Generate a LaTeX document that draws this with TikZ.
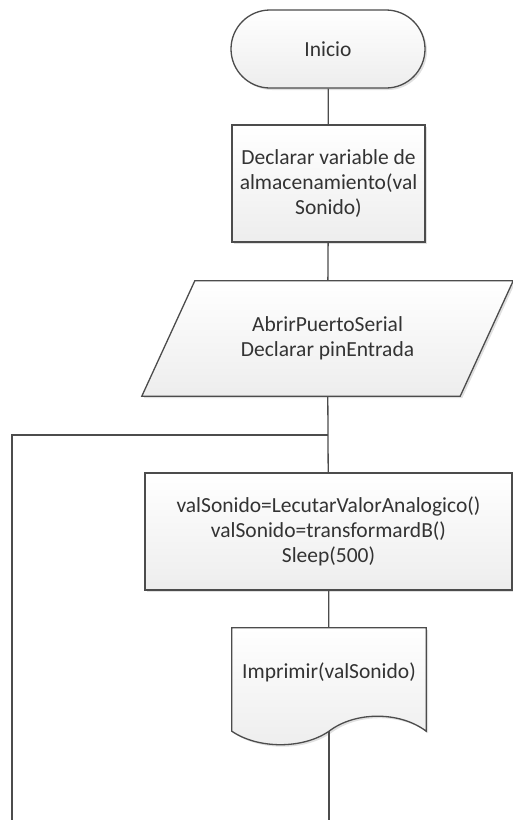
\documentclass[tikz,border=0pt]{standalone}
\usepackage{fontspec}
\setmainfont{Carlito}
\usetikzlibrary{shadows,calc}

\begin{document}
\begin{tikzpicture}[x=1pt, y=-1pt,
    every node/.style={font=\fontsize{21.5}{25}\selectfont, text=black!80, align=center},
    line/.style={draw=black!70, line width=1.3pt},
    boxfill/.style={top color=white, bottom color=black!7,
        drop shadow={shadow xshift=2pt, shadow yshift=-2pt, opacity=0.12, fill=black}},
    terminal/.style={line, boxfill, rectangle, rounded corners=39pt, minimum width=194pt, minimum height=78pt},
    process/.style={line, boxfill, rectangle, minimum height=117pt},
    textbox/.style={inner sep=0pt}]

    \useasboundingbox (0,0) rectangle (513,820);

    % Flowchart blocks
    \node[terminal] (inicio) at (328,49) {Inicio};
    \node[process, minimum width=193pt] (decl) at (328.5,183.5)
        {Declarar variable de\\almacenamiento(val\\Sonido)};
    \node[textbox, minimum width=318pt, minimum height=115pt] (io) at (327.5,338.5) {};
    \node[process, minimum width=367pt] (proc) at (328.5,531.5)
        {valSonido=LecutarValorAnalogico()\\valSonido=transformardB()\\Sleep(500)};
    \node[textbox, minimum width=194pt, minimum height=88pt] (doc) at (329,672) {};

    % Parallelogram outline
    \path[line, boxfill] ($(io.north west)+(26.5,0)$) -- ($(io.north east)+(26.5,0)$)
        -- ($(io.south east)+(-26.5,0)$) -- ($(io.south west)+(-26.5,0)$) -- cycle;
    \node at (io) {AbrirPuertoSerial\\Declarar pinEntrada};

    % Document outline with wavy bottom
    \coordinate (docwave) at ($(doc.south)+(0,15)$);
    \path[line, boxfill] (doc.north west) -- (doc.north east) -- ($(doc.south east)+(0,15)$)
        .. controls ($(docwave)+(71,-20)$) and ($(docwave)+(26,-20)$) .. (docwave)
        .. controls ($(docwave)+(-26,18)$) and ($(docwave)+(-71,18)$) .. ($(doc.south west)+(0,15)$)
        -- cycle;
    \node at (doc) {Imprimir(valSonido)};

    % Loop back
    \coordinate (docend) at (docwave |- 0,820);
    \coordinate (loopend) at (12,820);
    \coordinate (join) at (io.south |- 0,435);

    % Connectors
    \draw[line] (inicio) -- (decl);
    \draw[line] (decl) -- (io);
    \draw[line] (io) -- (proc);
    \draw[line] (proc) -- (doc);
    \draw[line] (docwave) -- (docend);
    \draw[line] (loopend) |- (join);

\end{tikzpicture}
\end{document}
